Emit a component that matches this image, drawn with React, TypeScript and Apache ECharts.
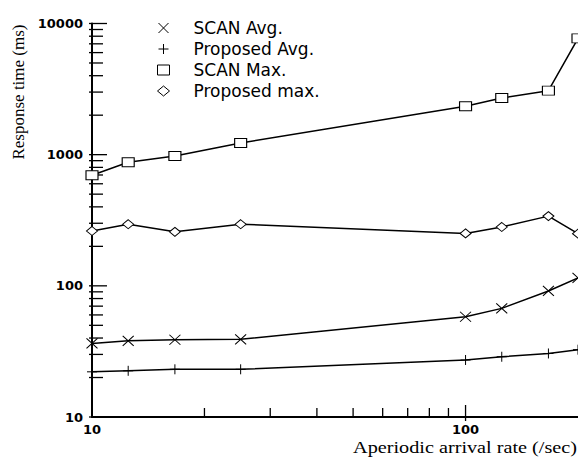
import React, { useEffect, useRef } from "react";
import * as echarts from "echarts";

// Aperiodic arrival rate (/sec)
const rates = [10, 12.5, 16.67, 25, 100, 125, 166.67, 200];
// Response time (ms)
const scanAvg = [36.4, 38.1, 38.8, 39.1, 58.1, 67.3, 91.4, 115];
const proposedAvg = [22.1, 22.5, 23.1, 23.1, 27.2, 28.8, 30.5, 32.6];
const scanMax = [697, 875, 977, 1227, 2339, 2704, 3076, 7700];
const proposedMax = [262, 295, 258, 295, 251, 281, 340, 250];

const seriesNames = ["SCAN Avg.", "Proposed Avg.", "SCAN Max.", "Proposed max."];

const yLabelValues = [10, 100, 1000, 10000];
const xLabelValues = [10, 100];
const yMajorTicks = [10, 100, 1000, 10000];
const yMinorTicks = [
  20, 30, 40, 50, 60, 70, 80, 90,
  200, 300, 400, 500, 600, 700, 800, 900,
  2000, 3000, 4000, 5000, 6000, 7000, 8000, 9000,
];
const xMajorTicks = [100];
const xMinorTicks = [20, 30, 40, 50, 60, 70, 80, 90];

const CROSS = "path://M0,0L10,10M10,0L0,10";
const PLUS = "path://M5,0L5,10M0,5L10,5";

export default function App() {
  const ref = useRef<HTMLDivElement>(null);
  useEffect(() => {
    const chart = echarts.init(ref.current!, null, { renderer: "svg" });
    const tickData: number[][] = [
      ...yMinorTicks.map((v) => [10, v, 0]),
      ...yMajorTicks.map((v) => [10, v, 1]),
      ...xMinorTicks.map((v) => [v, 10, 2]),
      ...xMajorTicks.map((v) => [v, 10, 3]),
    ];
    const lineStyle = { color: "#000", width: 1.5 };
    const itemStyle = { color: "#fff", borderColor: "#000", borderWidth: 1 };
    const mk = (name: string, vals: number[], symbol: string, size: number[]) => ({
      name,
      type: "line",
      data: rates.map((r, i) => [r, vals[i]]),
      symbol,
      symbolSize: size,
      showSymbol: true,
      lineStyle,
      itemStyle,
      z: 3,
    });
    const fmt = (list: number[]) => (v: number) => {
      const r = Math.round(v);
      return list.includes(r) ? String(r) : "";
    };
    const labelStyle = {
      color: "#000",
      fontFamily: "DejaVu Sans",
      fontWeight: "bold" as const,
      fontSize: 13,
    };
    chart.setOption({
      animation: false,
      backgroundColor: "#fff",
      grid: { left: 92, top: 23.5, right: -2, bottom: 40 },
      xAxis: {
        type: "log",
        logBase: 10,
        min: 10,
        max: 200,
        axisLine: { lineStyle: { color: "#000", width: 2 } },
        axisTick: { show: false },
        splitLine: { show: false },
        axisLabel: { ...labelStyle, margin: 6, formatter: fmt(xLabelValues), showMaxLabel: false },
      },
      yAxis: {
        type: "log",
        logBase: 10,
        min: 10,
        max: 10000,
        axisLine: { show: true, lineStyle: { color: "#000", width: 2 } },
        axisTick: { show: false },
        splitLine: { show: false },
        axisLabel: { ...labelStyle, margin: 9, formatter: fmt(yLabelValues) },
      },
      legend: {
        orient: "vertical",
        left: 152,
        top: 14.5,
        itemWidth: 12,
        itemHeight: 10,
        itemGap: 4,
        selectedMode: false,
        itemStyle: { color: "#fff", borderColor: "#000", borderWidth: 1 },
        textStyle: {
          fontFamily: "DejaVu Sans",
          fontSize: 17,
          lineHeight: 17,
          color: "#000",
          padding: [0, 0, 0, 19],
        },
        data: [
          { name: seriesNames[0], icon: CROSS },
          { name: seriesNames[1], icon: PLUS },
          { name: seriesNames[2], icon: "rect" },
          { name: seriesNames[3], icon: "diamond" },
        ],
      },
      graphic: [
        {
          type: "text",
          x: 18,
          y: 92,
          rotation: Math.PI / 2,
          style: {
            text: "Response time (ms)",
            font: "17px 'Liberation Serif'",
            fill: "#000",
            align: "center",
            verticalAlign: "middle",
          },
        },
        {
          type: "text",
          x: 577,
          y: 447,
          scaleX: 1.19,
          style: {
            text: "Aperiodic arrival rate (/sec)",
            font: "17px 'Liberation Serif'",
            fill: "#000",
            align: "right",
            verticalAlign: "middle",
          },
        },
      ],
      series: [
        mk(seriesNames[0], scanAvg, CROSS, [11, 10]),
        mk(seriesNames[1], proposedAvg, PLUS, [10, 10]),
        mk(seriesNames[2], scanMax, "rect", [12, 9]),
        mk(seriesNames[3], proposedMax, "diamond", [11, 9]),
        {
          type: "custom",
          clip: false,
          silent: true,
          data: tickData,
          encode: { x: 0, y: 1 },
          z: 1,
          renderItem: (params: any, api: any) => {
            const k = api.value(2);
            const p = api.coord([api.value(0), api.value(1)]);
            let shape;
            if (k < 2) {
              shape = { x1: p[0] - 3, y1: p[1], x2: p[0] + (k === 1 ? 15 : 11), y2: p[1] };
            } else {
              shape = { x1: p[0], y1: p[1] + (k === 3 ? 4 : 0), x2: p[0], y2: p[1] - (k === 3 ? 12 : 9) };
            }
            return { type: "line", shape, style: { stroke: "#000", lineWidth: 1.3 } };
          },
        },
      ],
    });
    return () => chart.dispose();
  }, []);
  return (
    <div
      ref={ref}
      style={{ position: "fixed", left: 0, top: 0, width: 578, height: 457 }}
    />
  );
}
